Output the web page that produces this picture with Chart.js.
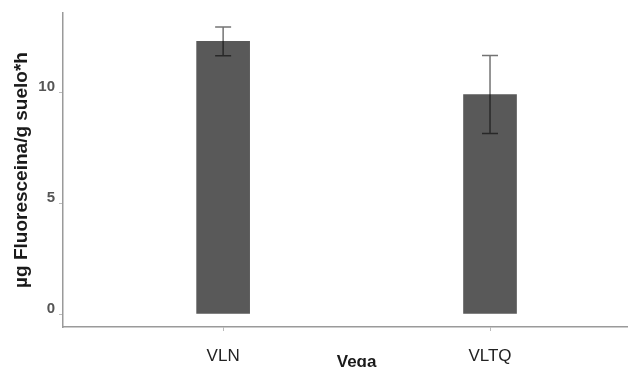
<!DOCTYPE html>
<html>
<head>
<meta charset="utf-8">
<script src="https://cdn.jsdelivr.net/npm/chart.js@4"></script>
<style>
  html, body { margin: 0; padding: 0; background: #fff; }
  #wrap { width: 628px; height: 367px; }
</style>
</head>
<body>
<div id="wrap"><canvas id="chart"></canvas></div>
<script>
// data
const groups = ['VLN', 'VLTQ'];
const means = [12.28, 9.89];
const errors = [0.65, 1.76];
const yTicks = [0, 5, 10];

// error bars, drawn through the scales
const errorBars = {
    id: 'errorBars',
    afterDatasetsDraw(chart) {
        const ctx = chart.ctx;
        const y = chart.scales.y;
        const meta = chart.getDatasetMeta(0);
        ctx.save();
        ctx.strokeStyle = 'rgba(0,0,0,0.55)';
        ctx.lineWidth = 1.5;
        meta.data.forEach(function(bar, i) {
            const top = y.getPixelForValue(means[i] + errors[i]);
            const bot = y.getPixelForValue(means[i] - errors[i]);
            ctx.beginPath();
            ctx.moveTo(bar.x, top); ctx.lineTo(bar.x, bot);
            ctx.moveTo(bar.x - 8, top); ctx.lineTo(bar.x + 8, top);
            ctx.moveTo(bar.x - 8, bot); ctx.lineTo(bar.x + 8, bot);
            ctx.stroke();
        });
        ctx.restore();
    }
};

// "Vega" sits between the two group labels
const xTitle = {
    id: 'xTitle',
    afterDraw(chart) {
        const ctx = chart.ctx;
        const x = chart.scales.x;
        const cx = (x.getPixelForValue(0) + x.getPixelForValue(1)) / 2;
        ctx.save();
        ctx.font = 'bold 17px "Liberation Sans", Arial, sans-serif';
        ctx.fillStyle = '#1a1a1a';
        ctx.textAlign = 'center';
        ctx.textBaseline = 'alphabetic';
        ctx.fillText('Vega', cx, 367);
        ctx.restore();
    }
};

const points = groups.map(function(g, i) { return {x: i, y: means[i]}; });

new Chart(document.getElementById('chart'), {
    type: 'bar',
    data: {
        datasets: [{
            data: points,
            backgroundColor: '#595959',
            borderWidth: 0,
            barThickness: 53
        }]
    },
    options: {
        responsive: true,
        maintainAspectRatio: false,
        animation: false,
        layout: { padding: { top: 13, right: 0, left: 0, bottom: 0 } },
        plugins: { legend: { display: false }, tooltip: { enabled: false } },
        scales: {
            x: {
                type: 'linear',
                offset: false,
                min: -0.6,
                max: 1.517,
                afterBuildTicks: function(s) { s.ticks = groups.map(function(g, i) { return {value: i}; }); },
                afterFit: function(s) { s.height = 40; },
                ticks: {
                    callback: function(v) { return groups[v]; },
                    font: { family: '"Liberation Sans", Arial, sans-serif', size: 17 },
                    color: '#222',
                    padding: 15,
                    maxRotation: 0
                },
                grid: { offset: false, drawOnChartArea: false, tickLength: 4, color: '#bbb' },
                border: { color: '#9a9a9a', width: 1.5 }
            },
            y: {
                min: -0.585,
                max: 13.56,
                afterBuildTicks: function(s) { s.ticks = yTicks.map(function(v) { return {value: v}; }); },
                afterFit: function(s) { s.width = 63; },
                ticks: {
                    font: { family: '"Liberation Sans", Arial, sans-serif', size: 15, weight: 'bold' },
                    color: '#555',
                    padding: 4,
                    labelOffset: -5
                },
                grid: { drawOnChartArea: false, tickLength: 4, color: '#bbb' },
                border: { color: '#9a9a9a', width: 1.5 },
                title: {
                    display: true,
                    text: 'µg Fluoresceina/g suelo*h',
                    font: { family: '"Liberation Sans", Arial, sans-serif', size: 19, weight: 'bold' },
                    color: '#1a1a1a',
                    padding: { top: 10, bottom: 0 }
                }
            }
        }
    },
    plugins: [errorBars, xTitle]
});
</script>
</body>
</html>
